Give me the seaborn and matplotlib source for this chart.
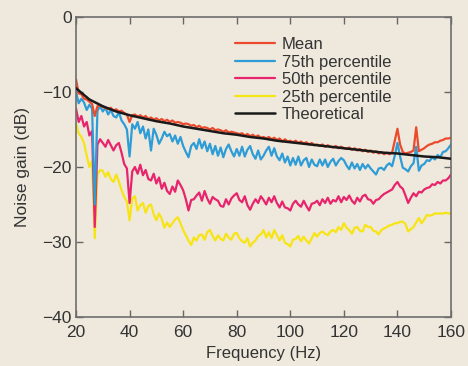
import numpy as np
import pandas as pd
import matplotlib
matplotlib.use("Agg")
import matplotlib.pyplot as plt
import seaborn as sns

freq = list(range(20, 161))

mean_db = [
    -8.3, -10.2, -10.3, -10.9, -11.0, -11.3, -11.6, -13.2, -11.9, -11.8,
    -12.0, -12.1, -12.3, -12.1, -12.5, -12.3, -12.6, -12.5, -12.8, -13.0,
    -14.0, -13.1, -13.0, -13.3, -13.1, -13.4, -13.2, -13.6, -13.4, -13.7,
    -13.5, -13.8, -13.6, -13.9, -13.7, -14.0, -13.8, -14.1, -14.0, -14.1,
    -14.3, -14.2, -14.3, -14.5, -14.4, -14.7, -14.5, -14.8, -14.7, -14.8,
    -15.0, -14.8, -15.1, -15.0, -15.1, -15.3, -15.1, -15.4, -15.3, -15.4,
    -15.5, -15.6, -15.5, -15.8, -15.6, -15.9, -15.7, -16.0, -15.8, -16.1,
    -16.0, -16.2, -16.0, -16.3, -16.1, -16.4, -16.2, -16.6, -16.3, -16.6,
    -16.5, -16.7, -16.5, -16.8, -16.6, -16.9, -16.7, -17.0, -16.8, -17.1,
    -17.0, -17.2, -17.0, -17.3, -17.1, -17.3, -17.4, -17.2, -17.5, -17.3,
    -17.5, -17.6, -17.4, -17.7, -17.5, -17.8, -17.6, -17.9, -17.7, -18.0,
    -17.8, -18.1, -17.9, -18.2, -18.0, -18.3, -18.1, -18.3, -18.1, -16.5,
    -14.9, -17.0, -18.0, -18.2, -18.1, -18.0, -17.8, -14.7, -17.9, -17.7,
    -17.5, -17.2, -17.0, -16.9, -16.7, -16.7, -16.5, -16.4, -16.2, -16.2,
    -16.1,
]

p75_db = [
    -10.0, -11.5, -10.9, -11.4, -12.4, -11.7, -12.2, -25.0, -12.5, -11.9,
    -12.6, -12.1, -13.0, -12.4, -13.2, -13.4, -12.7, -13.8, -14.3, -15.0,
    -18.6, -14.3, -14.9, -14.0, -15.5, -14.6, -16.2, -15.0, -17.8, -14.9,
    -15.7, -16.9, -16.2, -15.3, -15.9, -15.6, -16.6, -15.8, -16.9, -16.0,
    -17.2, -18.0, -18.7, -17.2, -16.8, -17.6, -16.3, -17.5, -16.6, -17.9,
    -16.9, -18.3, -17.2, -18.5, -17.4, -18.7, -17.6, -17.0, -17.9, -18.6,
    -17.6, -18.5, -17.3, -18.6, -17.7, -17.2, -18.3, -18.9, -17.8, -19.0,
    -18.5, -17.8, -17.3, -18.5, -17.5, -18.6, -19.1, -18.2, -19.4, -18.6,
    -19.8, -18.8, -19.7, -18.6, -19.8, -19.1, -18.8, -20.0, -19.0, -19.7,
    -19.9, -19.0, -19.8, -19.0, -20.0, -19.3, -18.9, -19.8, -19.2, -18.8,
    -19.1, -19.8, -20.3, -19.4, -20.2, -19.6, -20.4, -19.6, -20.2, -19.7,
    -20.2, -20.6, -21.0, -20.2, -20.1, -20.4, -19.8, -19.5, -19.9, -18.5,
    -16.8, -18.6, -20.1, -20.3, -20.6, -19.9, -19.5, -17.3, -20.5, -19.8,
    -19.6, -19.1, -19.2, -18.7, -19.0, -18.4, -18.7, -18.0, -17.9, -17.5,
    -17.0,
]

p50_db = [
    -12.2, -14.0, -13.2, -14.6, -14.0, -15.8, -15.2, -28.0, -17.0, -16.3,
    -16.8, -17.3, -16.4, -17.1, -17.8, -17.1, -16.8, -18.1, -19.6, -20.2,
    -24.8, -20.6, -20.0, -20.9, -19.7, -21.1, -20.4, -21.6, -21.8, -20.9,
    -22.2, -21.4, -22.9, -22.1, -23.2, -23.6, -22.6, -23.3, -21.8, -22.4,
    -23.1, -24.3, -25.8, -24.4, -24.3, -23.8, -23.4, -24.5, -23.2, -24.2,
    -24.9, -24.0, -24.3, -24.5, -25.2, -25.3, -24.3, -25.0, -24.2, -23.8,
    -23.5, -24.4, -24.7, -23.9, -25.1, -25.7, -24.9, -24.3, -24.8, -23.9,
    -24.4, -25.0, -24.1, -24.7, -23.9, -24.8, -25.4, -24.6, -25.4, -25.5,
    -25.8, -24.9, -24.5, -25.0, -25.3, -24.5, -25.2, -25.8, -24.9, -24.8,
    -24.5, -25.1, -24.3, -24.8, -24.1, -24.9, -24.4, -24.6, -23.9, -24.7,
    -24.0, -24.4, -23.8, -24.5, -24.9, -24.1, -24.6, -23.9, -23.7, -24.3,
    -24.4, -24.9, -24.4, -24.3, -23.9, -23.6, -23.4, -23.2, -23.0, -22.4,
    -22.0, -22.6, -22.9, -23.8, -24.8, -24.1, -23.5, -23.9, -23.3, -23.4,
    -23.0, -22.8, -22.7, -22.3, -22.4, -22.0, -22.2, -21.8, -21.8, -21.5,
    -21.0,
]

p25_db = [
    -14.2, -15.5, -16.0, -16.8, -18.5, -20.0, -19.2, -29.5, -21.0, -20.4,
    -20.5, -21.3, -20.7, -21.6, -22.0, -21.0, -21.9, -23.1, -24.0, -24.6,
    -27.1, -24.2, -23.9, -25.8, -25.1, -24.8, -26.1, -25.2, -25.0, -26.3,
    -27.1, -26.2, -26.9, -28.1, -27.4, -28.0, -27.5, -27.0, -26.7, -27.5,
    -28.4, -29.1, -29.8, -30.4, -29.4, -29.8, -29.1, -29.0, -29.7, -28.7,
    -28.4, -29.2, -29.8, -29.1, -29.6, -29.8, -28.9, -29.4, -29.7, -28.9,
    -28.8, -29.5, -29.9, -30.1, -29.5, -30.6, -30.1, -29.8, -29.2, -29.0,
    -28.4, -29.4, -28.7, -29.5, -28.4, -29.1, -29.8, -29.1, -30.1, -30.3,
    -30.6, -29.7, -29.6, -29.2, -29.9, -29.3, -29.8, -30.2, -29.5, -28.8,
    -29.3, -28.8, -28.6, -28.9, -29.1, -28.6, -28.4, -28.7, -28.0, -28.4,
    -27.5, -28.1, -28.4, -28.9, -28.1, -28.0, -28.5, -28.6, -27.7, -28.0,
    -28.0, -28.5, -28.6, -29.0, -28.4, -28.2, -28.0, -27.8, -27.7, -27.5,
    -27.5, -27.3, -27.3, -27.6, -28.6, -28.3, -28.0, -27.4, -26.8, -27.5,
    -27.0, -26.4, -26.5, -26.4, -26.2, -26.2, -26.2, -26.2, -26.1, -26.2,
    -26.2,
]

theory_freq = list(range(20, 161, 5))
theory_db = [
    -9.5, -11.0, -11.9, -12.6, -13.1, -13.5, -13.9, -14.2, -14.6, -14.9,
    -15.2, -15.5, -15.7, -16.0, -16.2, -16.5, -16.7, -16.9, -17.1, -17.3,
    -17.5, -17.7, -17.9, -18.1, -18.2, -18.4, -18.6, -18.7, -18.9,
]

series_names = ["Mean", "75th percentile", "50th percentile", "25th percentile", "Theoretical"]
colors = ["#EC4A2C", "#2E9CD6", "#E8246C", "#F7E414", "#1A1A1A"]

frames = []
for name, vals in zip(series_names[:4], [mean_db, p75_db, p50_db, p25_db]):
    frames.append(pd.DataFrame({"Frequency": freq, "Gain": vals, "Series": name}))
frames.append(pd.DataFrame({"Frequency": theory_freq, "Gain": theory_db, "Series": "Theoretical"}))
df = pd.concat(frames, ignore_index=True)

sns.set_theme(style="ticks")
plt.rcParams["font.family"] = ["Liberation Sans", "DejaVu Sans"]

bg = "#EFE9DD"
fig = plt.figure(figsize=(4.68, 3.66), dpi=100, facecolor=bg)
ax = fig.add_axes([0.1624, 0.1339, 0.8013, 0.8197])
ax.set_facecolor(bg)

draw_order = ["25th percentile", "50th percentile", "75th percentile", "Mean", "Theoretical"]
pal = dict(zip(series_names, colors))
for name in draw_order:
    sub = df[df["Series"] == name]
    sns.lineplot(data=sub, x="Frequency", y="Gain", color=pal[name],
                 linewidth=1.8 if name == "Theoretical" else 1.6,
                 ax=ax, label=name, legend=False, zorder=3 if name == "Theoretical" else 2)

ax.set_xlim(20, 160)
ax.set_ylim(-40, 0)
ax.set_xticks(range(20, 161, 20))
ax.set_yticks([0, -10, -20, -30, -40])
ax.set_yticklabels(["0", "\u221210", "\u221220", "\u221230", "\u221240"])
ax.tick_params(direction="in", length=5, width=1, color="#666666",
               top=True, right=True, labelsize=12.5, labelcolor="#333333")
ax.tick_params(axis="x", pad=6)
ax.tick_params(axis="y", pad=3)
for s in ax.spines.values():
    s.set_color("#6e6e6e")
    s.set_linewidth(1.2)

ax.set_xlabel("Frequency (Hz)", fontsize=12, color="#333333", labelpad=4)
ax.set_ylabel("Noise gain (dB)", fontsize=12.5, color="#333333", labelpad=9)

handles, labels = ax.get_legend_handles_labels()
hd = dict(zip(labels, handles))
leg = ax.legend([hd[n] for n in series_names], series_names, loc="upper left",
                bbox_to_anchor=(0.405, 0.955), frameon=False, fontsize=12,
                handlelength=2.4, handletextpad=0.45, labelspacing=0.15,
                borderaxespad=0)
for t in leg.get_texts():
    t.set_color("#333333")

fig.savefig("out.png", dpi=100, facecolor=bg)
